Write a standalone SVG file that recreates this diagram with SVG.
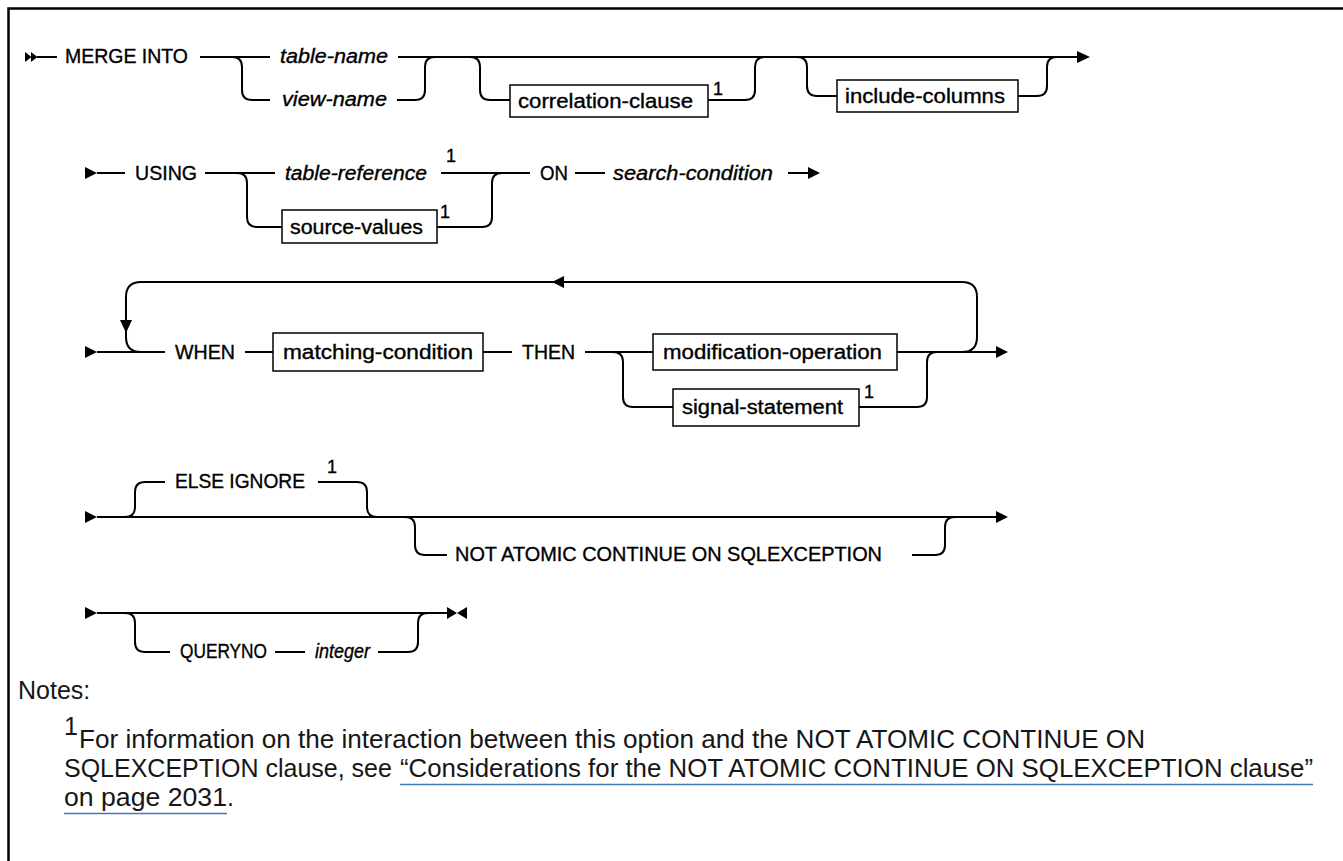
<svg xmlns="http://www.w3.org/2000/svg" width="1343" height="861" viewBox="0 0 1343 861">
<defs>
<style>
.t{font-family:"Liberation Sans",Arial,sans-serif;font-size:20px;fill:#000;stroke:#000;stroke-width:0.35}
.i{font-style:italic}
.s{font-family:"Liberation Sans",Arial,sans-serif;font-size:18px;fill:#000;stroke:#000;stroke-width:0.35}
.ln{fill:none;stroke:#000;stroke-width:2}
.bx{fill:#fff;stroke:#000;stroke-width:1.5}
.ah{fill:#000}
.n{font-family:"Liberation Sans",Arial,sans-serif;font-size:25px;fill:#161616}
.ul{stroke:#4178be;stroke-width:1.5}
</style>
</defs>
<rect width="1343" height="861" fill="#fff"/>
<path d="M1343 8.5H8.5V861" fill="none" stroke="#000" stroke-width="2.5"/>

<g id="connectors">
<!-- row 1 -->
<polygon class="ah" points="25,52 31.5,57 25,62"/>
<polygon class="ah" points="31,52 37.5,57 31,62"/>
<path class="ln" d="M37 57H57"/>
<path class="ln" d="M200 57H270"/>
<path class="ln" d="M232 57Q242 57 242 67V90Q242 100 252 100H270"/>
<path class="ln" d="M397 100H415Q425 100 425 90V67Q425 57 435 57"/>
<path class="ln" d="M398 57H1078"/>
<polygon class="ah" points="1077,51 1090,57 1077,63"/>
<path class="ln" d="M470 57Q480 57 480 67V90Q480 100 490 100H510"/>
<path class="ln" d="M708 100H745Q755 100 755 90V67Q755 57 765 57"/>
<path class="ln" d="M797 57Q807 57 807 67V86Q807 96 817 96H837"/>
<path class="ln" d="M1018 96H1037Q1047 96 1047 86V67Q1047 57 1057 57"/>
<!-- row 2 -->
<polygon class="ah" points="85,167 97,173 85,179"/>
<path class="ln" d="M97 173H125"/>
<path class="ln" d="M205 173H275"/>
<path class="ln" d="M237 173Q247 173 247 183V217Q247 227 257 227H282"/>
<path class="ln" d="M441 173H530"/>
<path class="ln" d="M437 227H482Q492 227 492 217V183Q492 173 502 173"/>
<path class="ln" d="M575 173H605"/>
<path class="ln" d="M788 173H809"/>
<polygon class="ah" points="808,167 820,173 808,179"/>
<!-- row 3 -->
<polygon class="ah" points="85,346 97,352 85,358"/>
<path class="ln" d="M97 352H165"/>
<path class="ln" d="M962 352Q977 352 977 337V297Q977 282 962 282H141Q126 282 126 297V322"/>
<path class="ln" d="M126 326V337Q126 352 141 352"/>
<polygon class="ah" points="120,320 132,320 126,333"/>
<polygon class="ah" points="552,282 564,276 564,288"/>
<path class="ln" d="M245 352H273"/>
<path class="ln" d="M483 352H512"/>
<path class="ln" d="M585 352H653"/>
<path class="ln" d="M897 352H997"/>
<polygon class="ah" points="996,346 1008,352 996,358"/>
<path class="ln" d="M613 352Q623 352 623 362V397Q623 407 633 407H673"/>
<path class="ln" d="M859 407H917Q927 407 927 397V362Q927 352 937 352"/>
<!-- row 4 -->
<polygon class="ah" points="85,511 97,517 85,523"/>
<path class="ln" d="M97 517H997"/>
<polygon class="ah" points="996,511 1008,517 996,523"/>
<path class="ln" d="M125 517Q135 517 135 507V492Q135 482 145 482H165"/>
<path class="ln" d="M318 482H357Q367 482 367 492V507Q367 517 377 517"/>
<path class="ln" d="M405 517Q415 517 415 527V545Q415 555 425 555H447"/>
<path class="ln" d="M912 555H935Q945 555 945 545V527Q945 517 955 517"/>
<!-- row 5 -->
<polygon class="ah" points="85,607 97,613 85,619"/>
<path class="ln" d="M97 613H448"/>
<polygon class="ah" points="447,607 457,613 447,619"/>
<polygon class="ah" points="467,607 457,613 467,619"/>
<path class="ln" d="M125 613Q135 613 135 623V642Q135 652 145 652H170"/>
<path class="ln" d="M275 652H305"/>
<path class="ln" d="M378 652H408Q418 652 418 642V623Q418 613 428 613"/>
</g>

<g id="merge-into"><text class="t" x="65" y="63" textLength="123" lengthAdjust="spacingAndGlyphs">MERGE INTO</text></g>
<g id="table-name"><text class="t i" x="280" y="63" textLength="108" lengthAdjust="spacingAndGlyphs">table-name</text></g>
<g id="view-name"><text class="t i" x="282" y="106" textLength="105" lengthAdjust="spacingAndGlyphs">view-name</text></g>
<g id="correlation-clause"><rect class="bx" x="510" y="85" width="198" height="32"/><text class="t" x="518" y="108" textLength="175" lengthAdjust="spacingAndGlyphs">correlation-clause</text><text class="s" x="713" y="95">1</text></g>
<g id="include-columns"><rect class="bx" x="837" y="80" width="181" height="32"/><text class="t" x="845" y="103" textLength="160" lengthAdjust="spacingAndGlyphs">include-columns</text></g>

<g id="using"><text class="t" x="135" y="180" textLength="62" lengthAdjust="spacingAndGlyphs">USING</text></g>
<g id="table-reference"><text class="t i" x="285" y="180" textLength="142" lengthAdjust="spacingAndGlyphs">table-reference</text><text class="s" x="446" y="162">1</text></g>
<g id="source-values"><rect class="bx" x="282" y="210" width="155" height="33"/><text class="t" x="290" y="234" textLength="133" lengthAdjust="spacingAndGlyphs">source-values</text><text class="s" x="440" y="218">1</text></g>
<g id="on"><text class="t" x="540" y="180" textLength="28" lengthAdjust="spacingAndGlyphs">ON</text></g>
<g id="search-condition"><text class="t i" x="613" y="180" textLength="160" lengthAdjust="spacingAndGlyphs">search-condition</text></g>

<g id="when"><text class="t" x="175" y="359" textLength="60" lengthAdjust="spacingAndGlyphs">WHEN</text></g>
<g id="matching-condition"><rect class="bx" x="273" y="333" width="210" height="38"/><text class="t" x="283" y="359" textLength="190" lengthAdjust="spacingAndGlyphs">matching-condition</text></g>
<g id="then"><text class="t" x="522" y="359" textLength="53" lengthAdjust="spacingAndGlyphs">THEN</text></g>
<g id="modification-operation"><rect class="bx" x="653" y="334" width="244" height="36"/><text class="t" x="663" y="359" textLength="219" lengthAdjust="spacingAndGlyphs">modification-operation</text></g>
<g id="signal-statement"><rect class="bx" x="673" y="389" width="186" height="37"/><text class="t" x="682" y="414" textLength="161" lengthAdjust="spacingAndGlyphs">signal-statement</text><text class="s" x="864" y="398">1</text></g>

<g id="else-ignore"><text class="t" x="175" y="488" textLength="130" lengthAdjust="spacingAndGlyphs">ELSE IGNORE</text><text class="s" x="327" y="473">1</text></g>
<g id="not-atomic"><text class="t" x="455" y="561" textLength="427" lengthAdjust="spacingAndGlyphs">NOT ATOMIC CONTINUE ON SQLEXCEPTION</text></g>

<g id="queryno"><text class="t" x="180" y="658" textLength="87" lengthAdjust="spacingAndGlyphs">QUERYNO</text></g>
<g id="integer"><text class="t i" x="315" y="658" textLength="55" lengthAdjust="spacingAndGlyphs">integer</text></g>

<g id="notes">
<text class="n" x="18" y="699">Notes:</text>
<text class="n" x="64" y="735" font-size="15">1</text>
<text class="n" x="79" y="748" textLength="1066" lengthAdjust="spacingAndGlyphs">For information on the interaction between this option and the NOT ATOMIC CONTINUE ON</text>
<text class="n" x="64" y="777">SQLEXCEPTION clause, see</text>
<text class="n" x="400" y="777" textLength="913" lengthAdjust="spacingAndGlyphs">“Considerations for the NOT ATOMIC CONTINUE ON SQLEXCEPTION clause”</text>
<line class="ul" x1="400" y1="784.5" x2="1313" y2="784.5"/>
<text class="n" x="64" y="806" textLength="163" lengthAdjust="spacingAndGlyphs">on page 2031</text>
<line class="ul" x1="64" y1="813.5" x2="227" y2="813.5"/>
<text class="n" x="227" y="806">.</text>
</g>
</svg>
